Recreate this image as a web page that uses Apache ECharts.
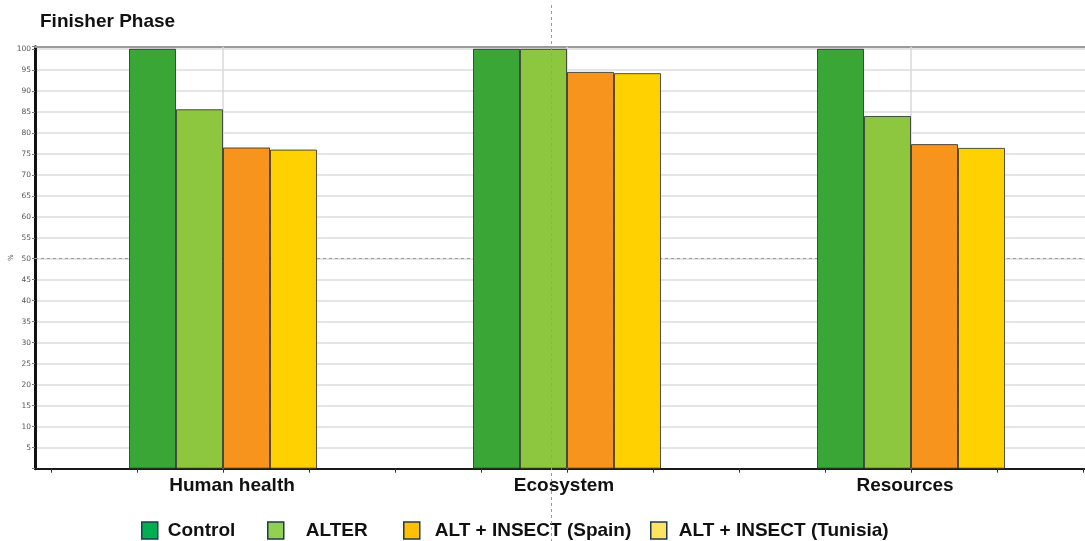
<!DOCTYPE html>
<html>
<head>
<meta charset="utf-8">
<script src="https://cdn.jsdelivr.net/npm/echarts@6/dist/echarts.min.js"></script>
<style>
  html, body { margin: 0; padding: 0; background: #ffffff; }
  #chart { width: 1085px; height: 541px; }
</style>
</head>
<body>
<div id="chart"></div>
<script>
// Finisher phase: relative scores (%) per damage category
const categories = ['Human health', 'Ecosystem', 'Resources'];
const seriesNames = ['Control', 'ALTER', 'ALT + INSECT (Spain)', 'ALT + INSECT (Tunisia)'];
const control = [100, 100, 100];
const alter = [85.6, 100, 84.0];
const altInsectSpain = [76.5, 94.5, 77.3];
const altInsectTunisia = [76.0, 94.2, 76.4];

const barColors = ['#39a635', '#8dc63f', '#f7941e', '#ffd100'];
const legendColors = ['#00b050', '#92d050', '#ffc000', '#ffe461'];

const FONT = "'Liberation Sans', Arial, sans-serif";
const seriesValues = [control, alter, altInsectSpain, altInsectTunisia];

const chart = echarts.init(document.getElementById('chart'), null, { renderer: 'canvas' });

const plotTop = 46.7;
const plotBottom = 72.3;
const yMax = 100.5;

// legend: one block per entry so each keeps its own spacing
const legendLeft = [141, 267, 403, 650];
const legendTextGap = [5, 17, 10, 7];
const legends = seriesNames.map((name, i) => ({
  left: legendLeft[i],
  top: 521,
  padding: 0,
  icon: 'rect',
  itemWidth: 16,
  itemHeight: 17,
  selectedMode: false,
  data: [{
    name: name,
    itemStyle: { color: legendColors[i], borderColor: '#1f3a4d', borderWidth: 1.5 }
  }],
  textStyle: {
    fontFamily: FONT, fontSize: 19, fontWeight: 'bold', color: '#111',
    padding: [0, 0, 0, legendTextGap[i]]
  }
}));

const labelKeys = ['a', 'b', 'c'];

const option = {
  backgroundColor: '#ffffff',
  animation: false,
  title: {
    text: 'Finisher Phase',
    left: 40,
    top: 12,
    padding: 0,
    textStyle: { fontFamily: FONT, fontSize: 19, fontWeight: 'bold', color: '#111' }
  },
  legend: legends,
  grid: [
    // frame: axis lines, horizontal grid
    { left: 35, right: 0, top: plotTop, bottom: plotBottom, containLabel: false, outerBoundsMode: 'none' },
    // category area holding the bars
    { left: 51, right: 2, top: plotTop, bottom: plotBottom, containLabel: false, outerBoundsMode: 'none' }
  ],
  xAxis: [
    {
      gridIndex: 0, type: 'value', min: 0, max: 1, position: 'bottom',
      axisLine: { show: true, lineStyle: { color: '#1a1a1a', width: 2 } },
      axisTick: { show: false }, axisLabel: { show: false }, splitLine: { show: false }
    },
    {
      gridIndex: 0, type: 'value', min: 0, max: 1, position: 'top',
      axisLine: { show: true, lineStyle: { color: '#9a9a9a', width: 2 } },
      axisTick: { show: false }, axisLabel: { show: false }, splitLine: { show: false }
    },
    {
      gridIndex: 1, type: 'category', data: categories, position: 'bottom',
      axisLine: { show: false }, axisTick: { show: false }, splitLine: { show: false },
      axisLabel: {
        margin: 8,
        fontFamily: FONT, fontSize: 19, fontWeight: 'bold', color: '#111',
        formatter: (v) => '{' + labelKeys[categories.indexOf(v)] + '|' + v + '}',
        rich: {
          a: { fontFamily: FONT, fontSize: 19, fontWeight: 'bold', color: '#111', padding: [0, 0, 0, 18] },
          b: { fontFamily: FONT, fontSize: 19, fontWeight: 'bold', color: '#111', padding: [0, 6, 0, 0] },
          c: { fontFamily: FONT, fontSize: 19, fontWeight: 'bold', color: '#111', padding: [0, 12, 0, 0] }
        }
      }
    },
    {
      // quarter-band tick marks under the category axis
      gridIndex: 1, type: 'value', min: 0, max: 12, interval: 1, position: 'bottom',
      axisLine: { show: false },
      axisTick: { show: true, length: 4, lineStyle: { color: '#333', width: 1 } },
      axisLabel: { show: false }, splitLine: { show: false }
    }
  ],
  yAxis: [
    {
      gridIndex: 0, type: 'value', min: 0, max: yMax, interval: 5,
      name: '%', nameLocation: 'middle', nameGap: 20, nameRotate: 90, nameMoveOverlap: false,
      nameTextStyle: { fontFamily: "'DejaVu Sans', sans-serif", fontSize: 7, color: '#555' },
      axisLine: { show: true, lineStyle: { color: '#111', width: 3 } },
      axisTick: { show: true, length: 3, lineStyle: { color: '#777', width: 1 } },
      axisLabel: {
        margin: 4,
        fontFamily: "'DejaVu Sans', sans-serif", fontSize: 7.5, color: '#555',
        formatter: (v) => (v > 0 && v % 5 === 0) ? String(v) : ''
      },
      splitLine: {
        show: true, showMinLine: false, showMaxLine: false,
        lineStyle: { color: '#dddddd', width: 1.5 }
      }
    },
    {
      gridIndex: 1, type: 'value', min: 0, max: yMax, show: false,
      splitLine: { show: false }
    }
  ],
  graphic: [
    {
      // vertical dashed guide
      type: 'line', z: 100, silent: true,
      shape: { x1: 551.5, y1: 5, x2: 551.5, y2: 541 },
      style: { stroke: '#9a9a9a', lineWidth: 1, lineDash: [3, 3] }
    }
  ],
  series: [
    {
      // vertical grid lines at each category
      type: 'line', xAxisIndex: 2, yAxisIndex: 1, data: [], z: 1, silent: true,
      markLine: {
        silent: true, symbol: ['none', 'none'], label: { show: false },
        lineStyle: { color: '#d8d8d8', width: 1.5, type: 'solid' },
        data: categories.map(c => ({ xAxis: c }))
      }
    },
    {
      // dashed 50 % reference line
      type: 'line', xAxisIndex: 0, yAxisIndex: 0, data: [], z: 20, silent: true,
      markLine: {
        silent: true, symbol: ['none', 'none'], label: { show: false },
        lineStyle: { color: '#9a9a9a', width: 1, type: [3, 3] },
        data: [{ yAxis: 50 }]
      }
    }
  ].concat(seriesNames.map((name, i) => ({
    name: name,
    type: 'bar',
    xAxisIndex: 2,
    yAxisIndex: 1,
    barWidth: 47,
    barGap: '0%',
    z: 5,
    data: seriesValues[i],
    itemStyle: { color: barColors[i], borderColor: 'rgba(40,40,40,0.8)', borderWidth: 1 }
  })))
};

chart.setOption(option);
</script>
</body>
</html>
